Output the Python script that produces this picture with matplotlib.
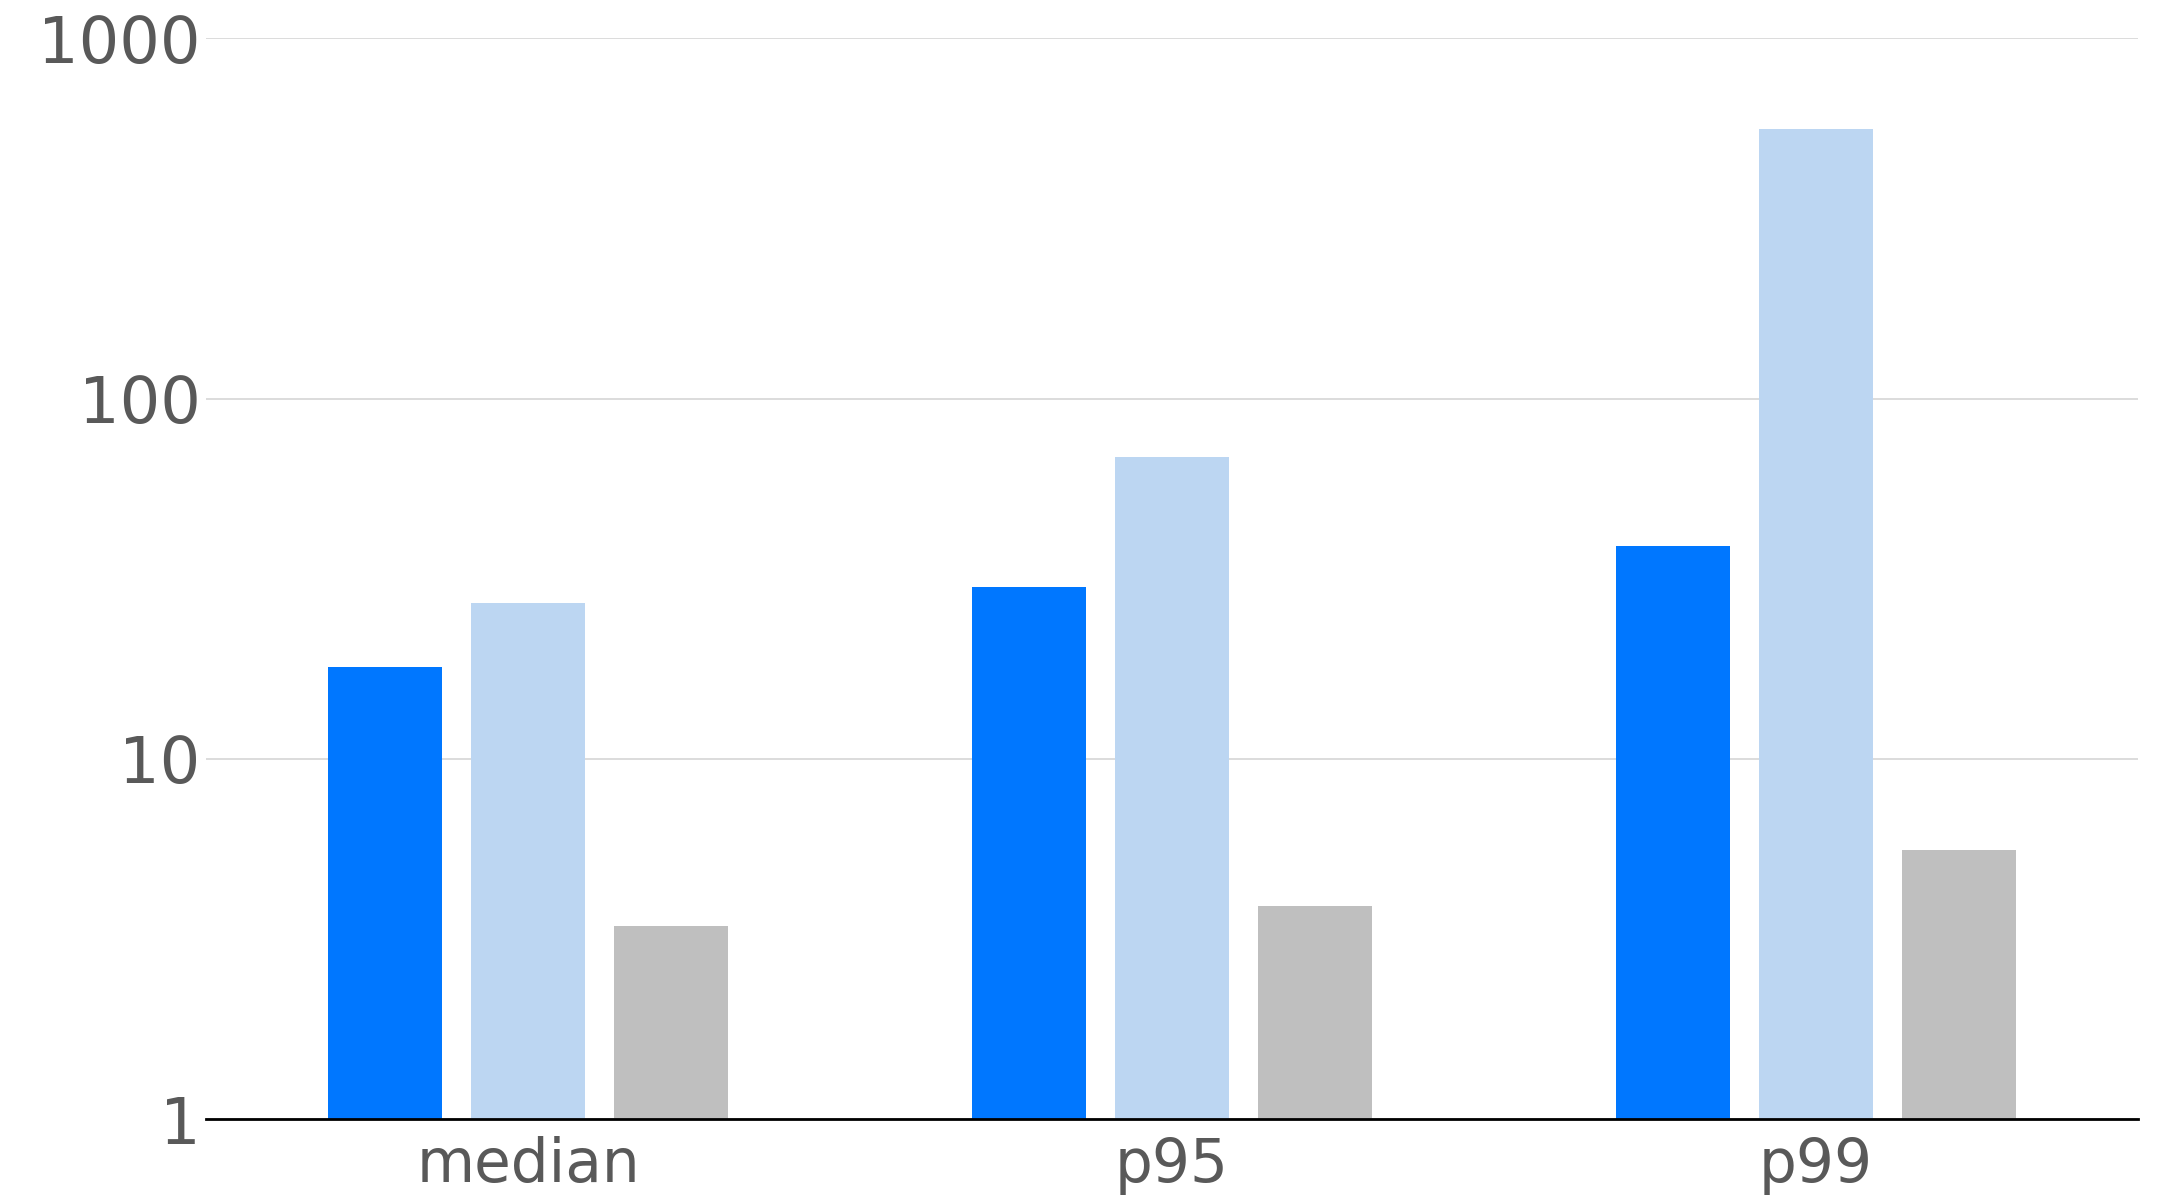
import matplotlib
matplotlib.use("Agg")
import matplotlib.pyplot as plt
import numpy as np

categories = ["median", "p95", "p99"]
series_a = [18.0, 29.9, 39.0]
series_b = [27.1, 68.7, 560.0]
series_c = [3.43, 3.89, 5.59]
y_ticks = [1, 10, 100, 1000]
y_tick_labels = ["1", "10", "100", "1000"]

colors = ["#0077FF", "#BCD6F2", "#BFBFBF"]
text_color = "#595959"

fig = plt.figure(figsize=(21.61, 11.95), dpi=100)
ax = fig.add_axes([206/2161, 1 - 1119/1195, (2138-206)/2161, (1119-38.3)/1195])

x = np.arange(len(categories))
width = 0.176
step = 0.222
for i, (vals, col) in enumerate(zip([series_a, series_b, series_c], colors)):
    ax.bar(x + (i - 1) * step, vals, width=width, color=col, zorder=2, bottom=0)

ax.set_yscale("log")
ax.set_ylim(1, 1000)
ax.set_xlim(-0.5, 2.5)
ax.set_yticks(y_ticks)
ax.set_yticklabels(y_tick_labels)
ax.yaxis.set_minor_locator(matplotlib.ticker.NullLocator())
ax.set_xticks(x)
ax.set_xticklabels(categories)

ax.grid(axis="y", color="#d9d9d9", linewidth=1.3, zorder=0)
ax.set_axisbelow(True)
for s in ["top", "right", "left"]:
    ax.spines[s].set_visible(False)
ax.spines["bottom"].set_color("black")
ax.spines["bottom"].set_linewidth(2)
ax.spines["bottom"].set_zorder(3)

ax.tick_params(axis="both", length=0, labelcolor=text_color)
ax.tick_params(axis="y", pad=4, labelsize=46)
ax.tick_params(axis="x", pad=12, labelsize=43)

fig.savefig("out.png", dpi=100, facecolor="white")
